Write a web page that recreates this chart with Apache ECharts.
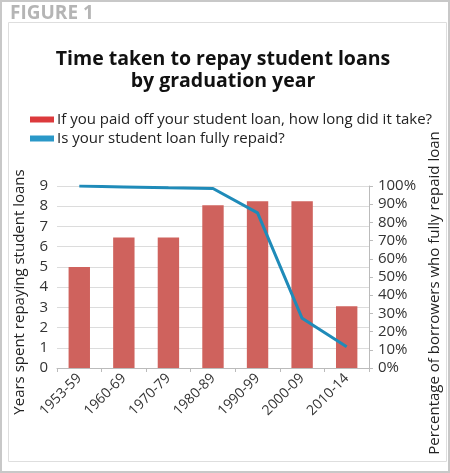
<!DOCTYPE html>
<html>
<head>
<meta charset="utf-8">
<script src="https://cdn.jsdelivr.net/npm/echarts@6/dist/echarts.min.js"></script>
<style>
  html, body { margin: 0; padding: 0; background: #fff; }
  #chart { width: 450px; height: 473px; }
</style>
</head>
<body>
<div id="chart"></div>
<script>
// data
var categories = ['1953-59', '1960-69', '1970-79', '1980-89', '1990-99', '2000-09', '2010-14'];
var yearsToRepay = [5.0, 6.45, 6.45, 8.05, 8.25, 8.25, 3.05];
var pctRepaid = [100, 99.5, 99, 98.6, 85.2, 27.3, 11.7];
var seriesNames = ['If you paid off your student loan, how long did it take?', 'Is your student loan fully repaid?'];

var font = '"Open Sans", "DejaVu Sans", sans-serif';
var myChart = echarts.init(document.getElementById('chart'));
var option = {
    animation: false,
    backgroundColor: '#fff',
    graphic: [
        // outer frame
        {type: 'rect', shape: {x: 1, y: 1, width: 448, height: 471}, style: {fill: 'none', stroke: '#c8c8c8', lineWidth: 2}, z: -10},
        // inner box
        {type: 'rect', shape: {x: 8.5, y: 22.5, width: 438, height: 439}, style: {fill: '#fff', stroke: '#dedede', lineWidth: 1}, z: -9},
        {type: 'text', left: 10, top: 4, style: {text: 'FIGURE 1', fill: '#b5b5b5', font: 'bold 19px ' + font}}
    ],
    title: {
        text: 'Time taken to repay student loans\nby graduation year',
        left: 218,
        textAlign: 'center',
        top: 43,
        textStyle: {fontFamily: font, fontWeight: 'bold', fontSize: 19.5, color: '#111', lineHeight: 22}
    },
    legend: {
        orient: 'vertical',
        left: 25,
        top: 107,
        itemGap: 4,
        itemWidth: 24,
        itemHeight: 6,
        textStyle: {fontFamily: font, fontSize: 15, color: '#222', padding: [0, 0, 0, -2]},
        data: [
            {name: seriesNames[0], icon: 'rect', itemStyle: {color: '#dc3a3c'}},
            {name: seriesNames[1], icon: 'rect', itemStyle: {color: '#2a98c8'}}
        ]
    },
    grid: {left: 57, right: 74, top: 186, bottom: 105},
    xAxis: {
        type: 'category',
        data: categories,
        axisLine: {lineStyle: {color: '#bbb'}},
        axisTick: {show: true, length: 4, lineStyle: {color: '#bbb'}},
        axisLabel: {rotate: 45, color: '#333', fontFamily: font, fontSize: 14, margin: 8}
    },
    yAxis: [{
        type: 'value',
        min: 0, max: 9, interval: 1,
        name: 'Years spent repaying student loans',
        nameLocation: 'middle',
        nameGap: 30,
        nameTextStyle: {fontFamily: font, fontSize: 15, color: '#222', padding: [0, 30, 0, 0]},
        axisLabel: {color: '#333', fontFamily: font, fontSize: 15, margin: 9},
        axisLine: {show: false},
        splitLine: {lineStyle: {color: '#dcdcdc'}}
    }, {
        type: 'value',
        min: 0, max: 100, interval: 10,
        position: 'right',
        name: 'Percentage of borrowers who fully repaid loan',
        nameLocation: 'middle',
        nameGap: 58,
        nameTextStyle: {fontFamily: font, fontSize: 15, color: '#222', padding: [0, 32, 0, 0]},
        axisLabel: {color: '#333', fontFamily: font, fontSize: 15, margin: 9, formatter: '{value}%'},
        axisLine: {show: true, lineStyle: {color: '#bbb'}},
        axisTick: {show: true, length: 4, lineStyle: {color: '#bbb'}},
        splitLine: {show: false}
    }],
    series: [{
        name: seriesNames[0],
        type: 'bar',
        data: yearsToRepay,
        barWidth: '48%',
        itemStyle: {color: '#cf625d'}
    }, {
        name: seriesNames[1],
        type: 'line',
        yAxisIndex: 1,
        data: pctRepaid,
        symbol: 'none',
        lineStyle: {color: '#1f8bb9', width: 3}
    }]
};
myChart.setOption(option);
</script>
</body>
</html>
